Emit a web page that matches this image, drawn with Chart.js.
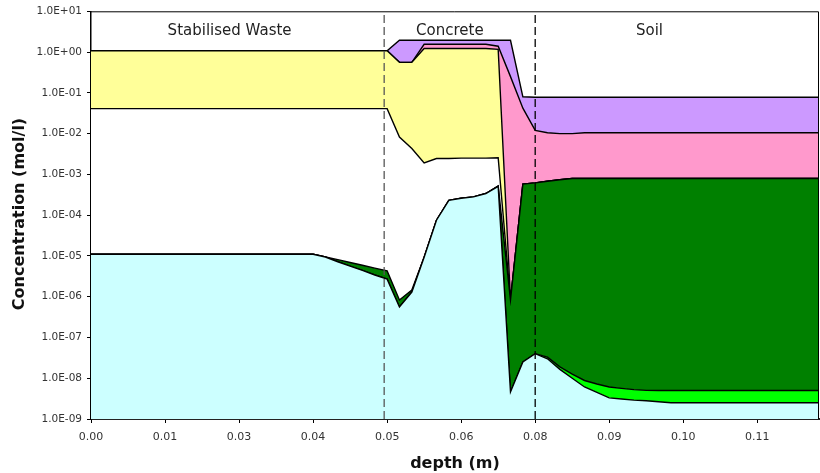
<!DOCTYPE html>
<html>
<head>
<meta charset="utf-8">
<script src="https://cdn.jsdelivr.net/npm/chart.js@4.4.0/dist/chart.umd.min.js"></script>
<style>
  html, body { margin: 0; padding: 0; background: #fff; }
  #wrap { width: 820px; height: 473px; }
</style>
</head>
<body>
<div id="wrap"><canvas id="chart" width="820" height="473"></canvas></div>
<script>
// depth grid (m)
const depth = [
  0, 0.00208, 0.00417, 0.00625, 0.00833, 0.01042, 0.0125, 0.01458, 0.01667, 0.01875,
  0.02083, 0.02292, 0.025, 0.02708, 0.02917, 0.03125, 0.03333, 0.03542, 0.0375, 0.03958,
  0.04167, 0.04375, 0.04583, 0.04792, 0.05, 0.05208, 0.05417, 0.05625, 0.05833, 0.06042,
  0.0625, 0.06458, 0.06667, 0.06875, 0.07083, 0.07292, 0.075, 0.07708, 0.07917, 0.08125,
  0.08333, 0.08542, 0.0875, 0.08958, 0.09167, 0.09375, 0.09583, 0.09792, 0.1, 0.10208,
  0.10417, 0.10625, 0.10833, 0.11042, 0.1125, 0.11458, 0.11667, 0.11875, 0.12083, 0.12292
];

// upper edge of each band (mol/l), bottom band first
const cyanTop = [
  1.1e-5, 1.1e-5, 1.1e-5, 1.1e-5, 1.1e-5, 1.1e-5, 1.1e-5, 1.1e-5, 1.1e-5, 1.1e-5,
  1.1e-5, 1.1e-5, 1.1e-5, 1.1e-5, 1.1e-5, 1.1e-5, 1.1e-5, 1.1e-5, 1.1e-5, 9.4e-6,
  7.2e-6, 5.6e-6, 4.4e-6, 3.4e-6, 2.7e-6, 5.6e-7, 1.3e-6, 9.3e-6, 7.5e-5, 2.3e-4,
  2.6e-4, 2.8e-4, 3.4e-4, 5.1e-4, 4.6e-9, 2.5e-8, 4.0e-8, 3.0e-8, 1.65e-8, 1.0e-8,
  6.1e-9, 4.5e-9, 3.3e-9, 3.1e-9, 2.9e-9, 2.8e-9, 2.65e-9, 2.5e-9, 2.5e-9, 2.5e-9,
  2.5e-9, 2.5e-9, 2.5e-9, 2.5e-9, 2.5e-9, 2.5e-9, 2.5e-9, 2.5e-9, 2.5e-9, 2.5e-9
];
const limeTop = [
  1.1e-5, 1.1e-5, 1.1e-5, 1.1e-5, 1.1e-5, 1.1e-5, 1.1e-5, 1.1e-5, 1.1e-5, 1.1e-5,
  1.1e-5, 1.1e-5, 1.1e-5, 1.1e-5, 1.1e-5, 1.1e-5, 1.1e-5, 1.1e-5, 1.1e-5, 9.4e-6,
  7.2e-6, 5.6e-6, 4.4e-6, 3.4e-6, 2.7e-6, 5.6e-7, 1.3e-6, 9.3e-6, 7.5e-5, 2.3e-4,
  2.6e-4, 2.8e-4, 3.4e-4, 5.1e-4, 4.6e-9, 2.5e-8, 4.0e-8, 3.3e-8, 1.9e-8, 1.26e-8,
  8.8e-9, 7.2e-9, 6.1e-9, 5.65e-9, 5.25e-9, 5.05e-9, 5.0e-9, 5.0e-9, 5.0e-9, 5.0e-9,
  5.0e-9, 5.0e-9, 5.0e-9, 5.0e-9, 5.0e-9, 5.0e-9, 5.0e-9, 5.0e-9, 5.0e-9, 5.0e-9
];
const greenTop = [
  1.1e-5, 1.1e-5, 1.1e-5, 1.1e-5, 1.1e-5, 1.1e-5, 1.1e-5, 1.1e-5, 1.1e-5, 1.1e-5,
  1.1e-5, 1.1e-5, 1.1e-5, 1.1e-5, 1.1e-5, 1.1e-5, 1.1e-5, 1.1e-5, 1.1e-5, 9.4e-6,
  8.1e-6, 6.9e-6, 5.9e-6, 5.0e-6, 4.3e-6, 8.3e-7, 1.45e-6, 9.3e-6, 7.5e-5, 2.3e-4,
  2.6e-4, 2.8e-4, 3.4e-4, 5.2e-4, 8.3e-7, 5.75e-4, 6.2e-4, 6.8e-4, 7.4e-4, 7.9e-4,
  7.9e-4, 7.9e-4, 7.9e-4, 7.9e-4, 7.9e-4, 7.9e-4, 7.9e-4, 7.9e-4, 7.9e-4, 7.9e-4,
  7.9e-4, 7.9e-4, 7.9e-4, 7.9e-4, 7.9e-4, 7.9e-4, 7.9e-4, 7.9e-4, 7.9e-4, 7.9e-4
];
const gapTop = [
  4.1e-2, 4.1e-2, 4.1e-2, 4.1e-2, 4.1e-2, 4.1e-2, 4.1e-2, 4.1e-2, 4.1e-2, 4.1e-2,
  4.1e-2, 4.1e-2, 4.1e-2, 4.1e-2, 4.1e-2, 4.1e-2, 4.1e-2, 4.1e-2, 4.1e-2, 4.1e-2,
  4.1e-2, 4.1e-2, 4.1e-2, 4.1e-2, 4.1e-2, 8.2e-3, 4.3e-3, 1.9e-3, 2.45e-3, 2.45e-3,
  2.5e-3, 2.5e-3, 2.5e-3, 2.55e-3, 8.3e-7, 5.75e-4, 6.2e-4, 6.8e-4, 7.4e-4, 7.9e-4,
  7.9e-4, 7.9e-4, 7.9e-4, 7.9e-4, 7.9e-4, 7.9e-4, 7.9e-4, 7.9e-4, 7.9e-4, 7.9e-4,
  7.9e-4, 7.9e-4, 7.9e-4, 7.9e-4, 7.9e-4, 7.9e-4, 7.9e-4, 7.9e-4, 7.9e-4, 7.9e-4
];
const yellowTop = [
  1.08, 1.08, 1.08, 1.08, 1.08, 1.08, 1.08, 1.08, 1.08, 1.08,
  1.08, 1.08, 1.08, 1.08, 1.08, 1.08, 1.08, 1.08, 1.08, 1.08,
  1.08, 1.08, 1.08, 1.08, 1.08, 0.56, 0.56, 1.22, 1.22, 1.22,
  1.22, 1.22, 1.22, 1.17, 8.3e-7, 5.75e-4, 6.2e-4, 6.8e-4, 7.4e-4, 7.9e-4,
  7.9e-4, 7.9e-4, 7.9e-4, 7.9e-4, 7.9e-4, 7.9e-4, 7.9e-4, 7.9e-4, 7.9e-4, 7.9e-4,
  7.9e-4, 7.9e-4, 7.9e-4, 7.9e-4, 7.9e-4, 7.9e-4, 7.9e-4, 7.9e-4, 7.9e-4, 7.9e-4
];
const pinkTop = [
  1.08, 1.08, 1.08, 1.08, 1.08, 1.08, 1.08, 1.08, 1.08, 1.08,
  1.08, 1.08, 1.08, 1.08, 1.08, 1.08, 1.08, 1.08, 1.08, 1.08,
  1.08, 1.08, 1.08, 1.08, 1.08, 0.56, 0.56, 1.55, 1.55, 1.55,
  1.55, 1.55, 1.55, 1.39, 0.25, 4.2e-2, 1.2e-2, 1.05e-2, 1.0e-2, 1.0e-2,
  1.05e-2, 1.05e-2, 1.05e-2, 1.05e-2, 1.05e-2, 1.05e-2, 1.05e-2, 1.05e-2, 1.05e-2, 1.05e-2,
  1.05e-2, 1.05e-2, 1.05e-2, 1.05e-2, 1.05e-2, 1.05e-2, 1.05e-2, 1.05e-2, 1.05e-2, 1.05e-2
];
const purpleTop = [
  1.08, 1.08, 1.08, 1.08, 1.08, 1.08, 1.08, 1.08, 1.08, 1.08,
  1.08, 1.08, 1.08, 1.08, 1.08, 1.08, 1.08, 1.08, 1.08, 1.08,
  1.08, 1.08, 1.08, 1.08, 1.08, 1.95, 1.95, 1.95, 1.95, 1.95,
  1.95, 1.95, 1.95, 1.95, 1.95, 8.0e-2, 7.8e-2, 7.8e-2, 7.8e-2, 7.8e-2,
  7.8e-2, 7.8e-2, 7.8e-2, 7.8e-2, 7.8e-2, 7.8e-2, 7.8e-2, 7.8e-2, 7.8e-2, 7.8e-2,
  7.8e-2, 7.8e-2, 7.8e-2, 7.8e-2, 7.8e-2, 7.8e-2, 7.8e-2, 7.8e-2, 7.8e-2, 7.8e-2
];

// layer boundaries and region names
const boundaries = [0.0495, 0.075];
const regionNames = ['Stabilised Waste', 'Concrete', 'Soil'];
const regionCentres = [0.0234, 0.0606, 0.0943];

// axis ticks
const xTickValues = [0, 0.0125, 0.025, 0.0375, 0.05, 0.0625, 0.075, 0.0875, 0.1, 0.1125];
const xTickLabels = ['0.00', '0.01', '0.03', '0.04', '0.05', '0.06', '0.08', '0.09', '0.10', '0.11'];
const yTickValues = [1e-9, 1e-8, 1e-7, 1e-6, 1e-5, 1e-4, 1e-3, 1e-2, 1e-1, 1, 10];
const yTickLabels = ['1.0E-09', '1.0E-08', '1.0E-07', '1.0E-06', '1.0E-05', '1.0E-04',
  '1.0E-03', '1.0E-02', '1.0E-01', '1.0E+00', '1.0E+01'];

const FONT = 'DejaVu Sans';

const pts = arr => depth.map((d, i) => ({ x: d, y: arr[i] }));

const bands = [
  { data: cyanTop, color: '#CCFFFF', fill: 'start' },
  { data: limeTop, color: '#00FF00', fill: '-1' },
  { data: greenTop, color: '#008000', fill: '-1' },
  { data: gapTop, color: '#FFFFFF', fill: '-1' },
  { data: yellowTop, color: '#FFFF99', fill: '-1' },
  { data: pinkTop, color: '#FF99CC', fill: '-1' },
  { data: purpleTop, color: '#CC99FF', fill: '-1' },
];

const datasets = bands.map(b => ({
  data: pts(b.data),
  backgroundColor: b.color,
  borderColor: '#000',
  borderWidth: 1.4,
  fill: b.fill,
  pointRadius: 0,
  tension: 0,
}));

boundaries.forEach((d, i) => {
  datasets.push({
    data: [{ x: d, y: 1e-9 }, { x: d, y: 10 }],
    borderColor: i === 0 ? '#555' : '#000',
    borderWidth: 1.3,
    borderDash: [8, 4],
    fill: false,
    pointRadius: 0,
    order: -1,
  });
});

// frame, region names and axis titles
const decor = {
  id: 'decor',
  afterDraw(chart) {
    const { ctx, chartArea: a, scales } = chart;
    ctx.save();
    ctx.strokeStyle = '#000';
    ctx.lineWidth = 1;
    ctx.beginPath();
    ctx.moveTo(a.left, a.top + 0.5);
    ctx.lineTo(a.right - 0.5, a.top + 0.5);
    ctx.lineTo(a.right - 0.5, a.bottom);
    ctx.stroke();

    ctx.fillStyle = '#222';
    ctx.font = `15px "${FONT}"`;
    ctx.textAlign = 'center';
    ctx.textBaseline = 'alphabetic';
    regionNames.forEach((name, i) => {
      ctx.fillText(name, scales.x.getPixelForValue(regionCentres[i]), a.top + 24);
    });

    ctx.fillStyle = '#111';
    ctx.font = `bold 16px "${FONT}"`;
    ctx.fillText('depth (m)', 455, 468);
    ctx.translate(24, 214);
    ctx.rotate(-Math.PI / 2);
    ctx.fillText('Concentration (mol/l)', 0, 0);
    ctx.restore();
  }
};

new Chart(document.getElementById('chart').getContext('2d'), {
  type: 'line',
  data: { datasets },
  options: {
    responsive: false,
    animation: false,
    devicePixelRatio: 1,
    layout: { padding: { top: 10, right: 1, left: 0, bottom: 0 } },
    plugins: { legend: { display: false }, tooltip: { enabled: false } },
    scales: {
      x: {
        type: 'linear',
        min: 0,
        max: 0.12292,
        afterBuildTicks: s => { s.ticks = xTickValues.map(v => ({ value: v })); },
        afterFit: s => { s.height = 54; },
        ticks: {
          callback: (v, i) => xTickLabels[i],
          font: { family: FONT, size: 11 },
          color: '#333',
          padding: 8,
          maxRotation: 0,
          autoSkip: false,
        },
        grid: { drawOnChartArea: false, tickLength: 4, color: '#000' },
        border: { color: '#222', width: 2 },
      },
      y: {
        type: 'logarithmic',
        min: 1e-9,
        max: 10,
        afterBuildTicks: s => { s.ticks = yTickValues.map(v => ({ value: v })); },
        afterFit: s => { s.width = 91; },
        ticks: {
          callback: (v, i) => yTickLabels[i],
          font: { family: FONT, size: 10.5 },
          color: '#333',
          padding: 5,
          autoSkip: false,
        },
        grid: { drawOnChartArea: false, tickLength: 4, color: '#000' },
        border: { color: '#000', width: 1.5 },
      },
    },
  },
  plugins: [decor],
});
</script>
</body>
</html>
